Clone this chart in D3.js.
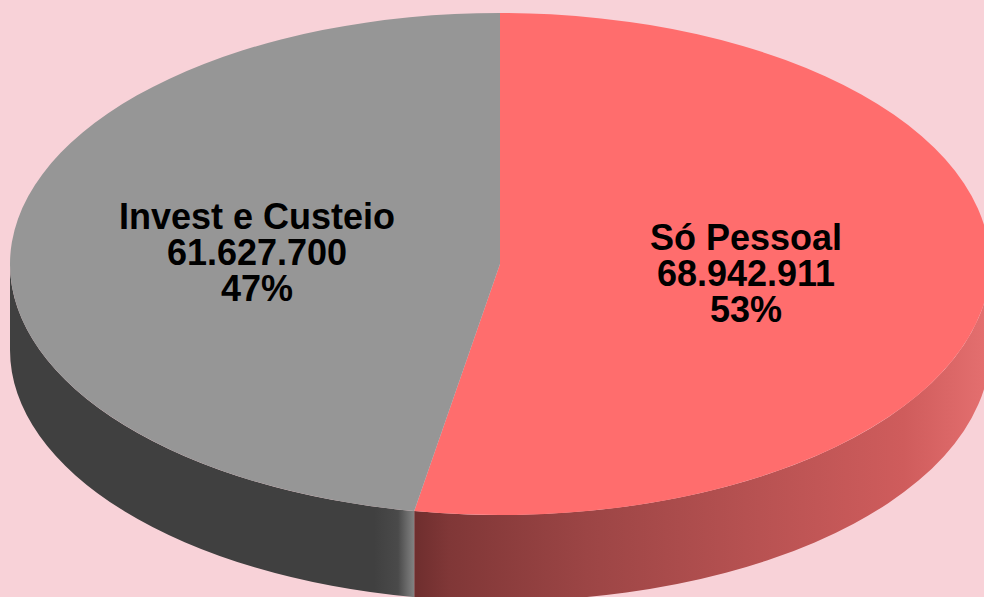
<!DOCTYPE html>
<html>
<head>
<meta charset="utf-8">
<script src="https://cdn.jsdelivr.net/npm/d3@7"></script>
<style>
  html, body { margin: 0; padding: 0; background: #f8d2d8; overflow: hidden; }
  svg { display: block; }
  text { font-family: "Liberation Sans Narrow", "Liberation Sans", sans-serif; font-weight: bold; font-size: 36px; fill: #000; }
</style>
</head>
<body>
<div id="chart"></div>
<script>
const categories = ["Só Pessoal", "Invest e Custeio"];
const values = [68942911, 61627700];
const topColors = ["#ff6d6d", "#969696"];

// side wall gradients, left to right in page x
const redSideStops = [[0, "#6e2e2e"], [0.06, "#803737"], [0.3, "#9c4545"], [0.6, "#b85252"], [0.85, "#cf5c5c"], [1, "#e57070"]];
const greySideStops = [[0, "#404040"], [0.9, "#404040"], [0.96, "#4a4a4a"], [0.985, "#6e6e6e"], [1, "#828282"]];

const width = 984,
    height = 597;

const cx = 500,
    cy = 264,
    rx = 490,
    ry = 251,
    depth = 86;

const svg = d3.select("#chart")
    .append("svg")
    .attr("width", width)
    .attr("height", height);

const defs = svg.append("defs");

const nf = d3.formatLocale({ decimal: ",", thousands: ".", grouping: [3], currency: ["R$", ""] }).format(",d");
const pf = d3.format(".0%");
const total = d3.sum(values);

const pie = d3.pie().sort(null).value(d => d);
const slices = pie(values);

const arc = d3.arc().innerRadius(0).outerRadius(rx);

function px(a) { return cx + rx * Math.sin(a); }
function py(a) { return cy - ry * Math.cos(a); }

function addGradient(id, stops, x1, x2) {
    const g = defs.append("linearGradient")
        .attr("id", id)
        .attr("gradientUnits", "userSpaceOnUse")
        .attr("x1", x1).attr("x2", x2)
        .attr("y1", 0).attr("y2", 0);
    g.selectAll("stop")
        .data(stops)
        .join("stop")
        .attr("offset", d => d[0])
        .attr("stop-color", d => d[1]);
}

// only the front half of the ellipse has a visible wall
function sidePath(d) {
    const a0 = Math.max(d.startAngle, Math.PI / 2);
    const a1 = Math.min(d.endAngle, Math.PI * 3 / 2);
    if (a0 >= a1) return null;
    return `M${px(a0)},${py(a0)}` +
        `A${rx},${ry} 0 0 1 ${px(a1)},${py(a1)}` +
        `L${px(a1)},${py(a1) + depth}` +
        `A${rx},${ry} 0 0 0 ${px(a0)},${py(a0) + depth}Z`;
}

const split = px(slices[0].endAngle);
addGradient("side0", redSideStops, split, cx + rx);
addGradient("side1", greySideStops, cx - rx, split);

svg.selectAll("path.side")
    .data(slices)
    .join("path")
    .attr("class", "side")
    .attr("d", sidePath)
    .attr("fill", (d, i) => `url(#side${i})`);

svg.append("g")
    .attr("transform", `translate(${cx},${cy}) scale(1,${ry / rx})`)
    .selectAll("path")
    .data(slices)
    .join("path")
    .attr("d", arc)
    .attr("fill", (d, i) => topColors[i]);

const labelPos = [[746, 250], [257, 229]];
const lineHeight = 36;

const labels = svg.selectAll("text.label")
    .data(slices)
    .join("text")
    .attr("class", "label")
    .attr("text-anchor", "middle")
    .attr("transform", (d, i) => `translate(${labelPos[i][0]},${labelPos[i][1]})`);

labels.selectAll("tspan")
    .data((d, i) => [categories[i], nf(values[i]), pf(values[i] / total)])
    .join("tspan")
    .attr("x", 0)
    .attr("y", (d, i) => i * lineHeight)
    .text(d => d);
</script>
</body>
</html>
